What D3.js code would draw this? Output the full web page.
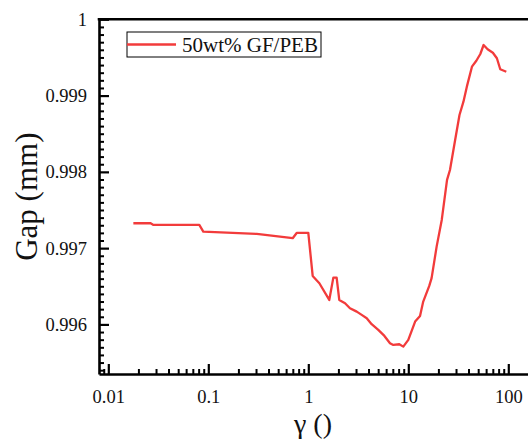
<!DOCTYPE html>
<html>
<head>
<meta charset="utf-8">
<script src="https://cdn.jsdelivr.net/npm/d3@7"></script>
<style>
  body { margin: 0; background: #fff; }
  svg text { font-family: "Liberation Serif", "DejaVu Serif", serif !important; }
</style>
</head>
<body>
<script>
// shear rate and gap readings
var gamma = [0.0178, 0.0265, 0.0283, 0.0813, 0.0891, 0.305, 0.698, 0.765, 1.0, 1.106,
             1.29, 1.62, 1.78, 1.92, 2.04, 2.33, 2.61, 3.05, 3.42, 3.84,
             4.30, 5.01, 5.77, 6.56, 7.08, 8.13, 8.91, 10.0, 11.7, 13.1,
             14.1, 16.2, 17.1, 19.2, 21.6, 24.4, 26.1, 29.4, 32.5, 35.6,
             38.5, 43.3, 47.9, 52.5, 56.6, 62.1, 70.1, 76.9, 83.1, 95.5];
var gap = [0.997326, 0.997326, 0.997304, 0.997304, 0.997216, 0.997186, 0.99713, 0.997199, 0.997199, 0.996636,
           0.99654, 0.996321, 0.996613, 0.996613, 0.996321, 0.996278, 0.996212, 0.996168, 0.996125, 0.996081,
           0.996003, 0.995928, 0.995849, 0.995754, 0.995731, 0.99574, 0.995709, 0.995797, 0.996037, 0.996111,
           0.996299, 0.996505, 0.996606, 0.99702, 0.99737, 0.997894, 0.998025, 0.998418, 0.998746, 0.99892,
           0.999117, 0.999379, 0.999457, 0.999545, 0.999663, 0.999607, 0.999562, 0.999489, 0.999345, 0.999313];

var seriesName = "50wt% GF/PEB";
var xMajor = [0.01, 0.1, 1, 10, 100];
var yMajor = [0.996, 0.997, 0.998, 0.999, 1];

var W = 528, H = 444;
var pL = 99, pT = 19.3, pR = 528, pB = 374;
var serif = "'Liberation Serif', 'DejaVu Serif', serif";

var svg = d3.select("body").append("svg")
            .attr("width", W)
            .attr("height", H)
            .style("font-family", serif);

var x = d3.scaleLog().domain([0.00807, 157.4]).range([pL, pR]);
var y = d3.scaleLinear().domain([0.99535, 1.0]).range([pB, pT]);

// minor ticks
var xMinor = [];
[0.001, 0.01, 0.1, 1, 10, 100].forEach(function(dec) {
  for (var k = 2; k <= 9; k++) {
    var v = dec * k;
    if (v > x.domain()[0] && v < x.domain()[1]) xMinor.push(v);
  }
});
var yMinor = d3.range(9954, 10000).map(function(i) { return i / 10000; })
               .filter(function(v) { return yMajor.every(function(m) { return Math.abs(m - v) > 1e-7; }); });

// minor tick axes first
svg.append("g")
   .attr("transform", "translate(0," + pB + ")")
   .call(d3.axisBottom(x).tickValues(xMinor).tickSize(-5).tickFormat(""))
   .call(function(g) { g.select(".domain").remove(); })
   .selectAll("line").attr("stroke-width", 2);

svg.append("g")
   .attr("transform", "translate(" + pL + ",0)")
   .call(d3.axisLeft(y).tickValues(yMinor).tickSize(-5).tickFormat(""))
   .call(function(g) { g.select(".domain").remove(); })
   .selectAll("line").attr("stroke-width", 2);

// major axes
var xAxis = svg.append("g")
   .attr("transform", "translate(0," + pB + ")")
   .call(d3.axisBottom(x).tickValues(xMajor).tickSize(-10).tickSizeOuter(0).tickPadding(16)
           .tickFormat(function(d) { return String(d); }));

var yAxis = svg.append("g")
   .attr("transform", "translate(" + pL + ",0)")
   .call(d3.axisLeft(y).tickValues(yMajor).tickSize(-10).tickSizeOuter(0).tickPadding(12)
           .tickFormat(function(d) { return d === 1 ? "1" : d3.format(".3f")(d); }));

[xAxis, yAxis].forEach(function(g) {
  g.attr("font-family", serif);
  g.select(".domain").attr("stroke-width", 2.6);
  g.selectAll(".tick line").attr("stroke-width", 2.2);
  g.selectAll(".tick text")
   .style("font-family", serif)
   .style("font-size", "18.5px")
   .attr("fill", "#111");
});

// top frame line
svg.append("line")
   .attr("x1", pL - 1.3).attr("x2", pR)
   .attr("y1", pT).attr("y2", pT)
   .attr("stroke", "#000").attr("stroke-width", 2.6);

// data line
var pts = gamma.map(function(g, i) { return [g, gap[i]]; });
svg.append("path")
   .datum(pts)
   .attr("fill", "none")
   .attr("stroke", "#f23b3b")
   .attr("stroke-width", 2.3)
   .attr("stroke-linejoin", "round")
   .attr("d", d3.line().x(function(d) { return x(d[0]); }).y(function(d) { return y(d[1]); }));

// legend
var lg = svg.append("g");
lg.append("rect")
  .attr("x", 127).attr("y", 32)
  .attr("width", 194).attr("height", 25)
  .attr("fill", "#fff").attr("stroke", "#000").attr("stroke-width", 1);
lg.append("line")
  .attr("x1", 127).attr("x2", 176)
  .attr("y1", 44.5).attr("y2", 44.5)
  .attr("stroke", "#f23b3b").attr("stroke-width", 2.3);
lg.append("text")
  .attr("x", 182).attr("y", 51.5)
  .style("font-size", "21px")
  .attr("fill", "#111")
  .text(seriesName);

// axis titles
svg.append("text")
   .attr("x", 313).attr("y", 433)
   .attr("text-anchor", "middle")
   .style("font-size", "28px")
   .attr("fill", "#111")
   .text("γ ()");

svg.append("text")
   .attr("transform", "translate(37," + (pT + pB) / 2 + ") rotate(-90)")
   .attr("text-anchor", "middle")
   .style("font-size", "31px")
   .attr("fill", "#111")
   .text("Gap (mm)");
</script>
</body>
</html>
